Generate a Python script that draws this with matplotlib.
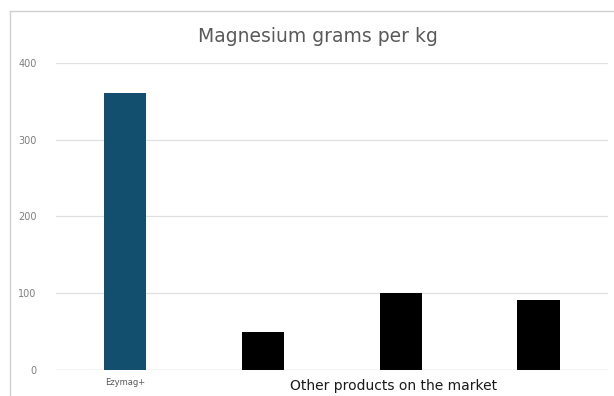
import matplotlib.pyplot as plt
from matplotlib.lines import Line2D
from matplotlib.transforms import blended_transform_factory

# data
products = ["Ezymag+", "Other 1", "Other 2", "Other 3"]
magnesium = [361, 50, 100, 91]
bar_colors = ["#124e6e", "#000000", "#000000", "#000000"]
tick_labels = ["Ezymag+", "", "", ""]
group_label = "Other products on the market"
y_ticks = [0, 100, 200, 300, 400]

fig = plt.figure(figsize=(6.14, 3.96), dpi=100)
ax = fig.add_axes([0.0912, 0.0657, 0.8988, 0.7753])

x = list(range(len(products)))
ax.bar(x, magnesium, width=0.31, color=bar_colors, zorder=3)

ax.set_xlim(-0.5, len(products) - 0.5)
ax.set_ylim(0, 400)
ax.set_yticks(y_ticks)
ax.set_yticklabels([str(v) for v in y_ticks], fontsize=7, color="#7f7f7f")
ax.set_xticks(x)
ax.set_xticklabels(tick_labels, fontsize=6, color="#595959")
ax.tick_params(axis="both", length=0, pad=6)
ax.tick_params(axis="y", pad=14)
ax.grid(axis="y", color="#e0e0e0", linewidth=0.9, zorder=0)
for s in ax.spines.values():
    s.set_visible(False)
ax.axhline(0, color="#d9d9d9", linewidth=0.9, zorder=2)

# label for the group of other products, centred under bars 2-4
trans = blended_transform_factory(ax.transData, ax.transAxes)
ax.text(1.95, -0.03, group_label, transform=trans, ha="center", va="top",
        fontsize=10, color="#1a1a1a")

fig.text(0.518, 0.908, "Magnesium grams per kg", ha="center", va="center",
         fontsize=13.5, color="#595959")

# thin frame lines round the chart area (only top and left are visible)
top = 1 - 11 / 396
left = 10 / 614
fig.add_artist(Line2D([left, 1], [top, top], transform=fig.transFigure,
                      color="#d0d0d0", linewidth=1.0))
fig.add_artist(Line2D([left, left], [0, top], transform=fig.transFigure,
                      color="#d0d0d0", linewidth=1.0))

fig.savefig("out.png", dpi=100)
